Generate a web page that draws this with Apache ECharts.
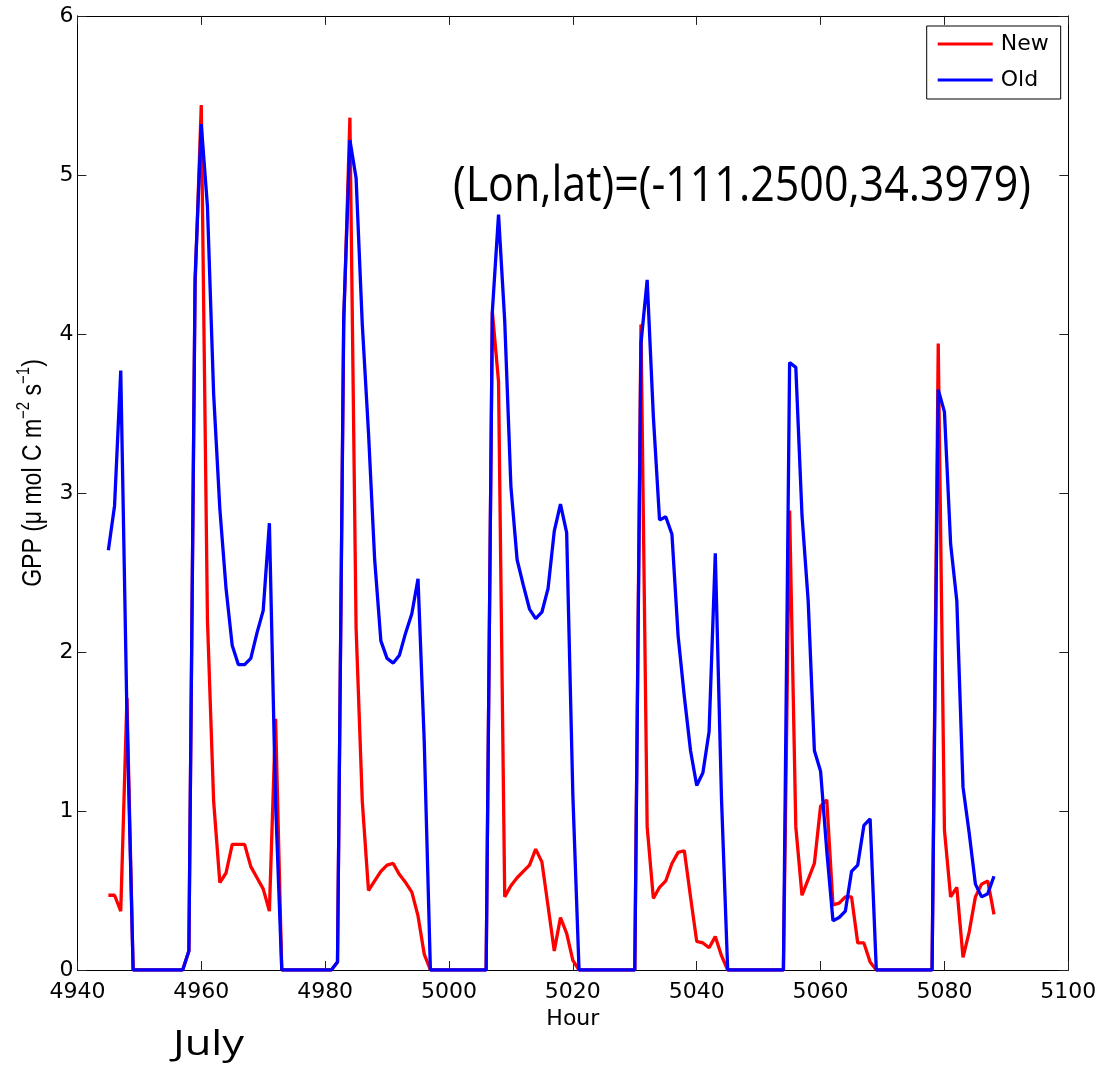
<!DOCTYPE html>
<html>
<head>
<meta charset="utf-8">
<script src="https://cdn.jsdelivr.net/npm/echarts@6/dist/echarts.min.js"></script>
<style>
html,body{margin:0;padding:0;background:#fff;}
#chart{width:1107px;height:1074px;}
</style>
</head>
<body>
<div id="chart"></div>
<script>
// ---- data (hourly values, first hour = 4945) ----
const startHour = 4945;
const newGPP = [
  0.47, 0.47, 0.37, 1.71, 0, 0, 0, 0, 0, 0,
  0, 0, 0, 0.12, 4.3, 5.44, 2.2, 1.06, 0.55, 0.61,
  0.79, 0.79, 0.79, 0.65, 0.58, 0.51, 0.37, 1.58, 0, 0,
  0, 0, 0, 0, 0, 0, 0, 0.05, 4.05, 5.36,
  2.15, 1.06, 0.5, 0.56, 0.62, 0.66, 0.67, 0.6, 0.55, 0.49,
  0.34, 0.1, 0, 0, 0, 0, 0, 0, 0, 0,
  0, 0, 4.14, 3.7, 0.46, 0.53, 0.58, 0.62, 0.66, 0.76,
  0.68, 0.4, 0.12, 0.33, 0.23, 0.06, 0, 0, 0, 0,
  0, 0, 0, 0, 0, 0, 4.06, 0.9, 0.45, 0.52,
  0.56, 0.67, 0.74, 0.75, 0.46, 0.18, 0.17, 0.14, 0.21, 0.09,
  0, 0, 0, 0, 0, 0, 0, 0, 0, 0,
  2.89, 0.9, 0.47, 0.57, 0.67, 1.03, 1.07, 0.41, 0.42, 0.46,
  0.46, 0.17, 0.17, 0.05, 0, 0, 0, 0, 0, 0,
  0, 0, 0, 0, 3.94, 0.88, 0.46, 0.52, 0.08, 0.24,
  0.46, 0.54, 0.56, 0.35
];
const oldGPP = [
  2.64, 2.92, 3.77, 1.6, 0, 0, 0, 0, 0, 0,
  0, 0, 0, 0.12, 4.35, 5.32, 4.8, 3.62, 2.9, 2.4,
  2.04, 1.92, 1.92, 1.96, 2.12, 2.26, 2.81, 1.05, 0, 0,
  0, 0, 0, 0, 0, 0, 0, 0.05, 4.1, 5.22,
  4.98, 4.06, 3.38, 2.58, 2.07, 1.96, 1.93, 1.98, 2.12, 2.24,
  2.46, 1.44, 0, 0, 0, 0, 0, 0, 0, 0,
  0, 0, 4.14, 4.75, 4.08, 3.04, 2.58, 2.42, 2.27, 2.21,
  2.25, 2.4, 2.76, 2.93, 2.75, 1.1, 0, 0, 0, 0,
  0, 0, 0, 0, 0, 0, 3.94, 4.34, 3.48, 2.83,
  2.85, 2.74, 2.1, 1.72, 1.38, 1.16, 1.24, 1.5, 2.62, 1.08,
  0, 0, 0, 0, 0, 0, 0, 0, 0, 0,
  3.82, 3.79, 2.86, 2.32, 1.38, 1.25, 0.75, 0.31, 0.33, 0.37,
  0.62, 0.66, 0.91, 0.95, 0, 0, 0, 0, 0, 0,
  0, 0, 0, 0, 3.65, 3.51, 2.68, 2.32, 1.15, 0.86,
  0.54, 0.46, 0.48, 0.59
];
const seriesNames = ['New', 'Old'];
const seriesColors = ['#ff0000', '#0000ff'];
const xMin = 4940, xMax = 5100, xStep = 20;
const yMin = 0, yMax = 6, yStep = 1;
const xName = 'Hour';
const titleText = '(Lon,lat)=(-111.2500,34.3979)';
const monthText = 'July';

// ---- build ----
function pairs(vals) { return vals.map((v, i) => [startHour + i, v]); }
function fitScale(text, font, target) {
  const c = document.createElement('canvas').getContext('2d');
  c.font = font;
  return target / c.measureText(text).width;
}
const tickFont = 'DejaVu Sans';
const titleFont = '49px "Open Sans"';
const monthFont = '34px "Open Sans"';

const axisBase = {
  type: 'value',
  axisLine: { show: true, onZero: false, lineStyle: { color: '#000', width: 1 } },
  axisTick: { show: true, inside: true, length: 9, lineStyle: { color: '#222', width: 1 } },
  splitLine: { show: false }
};

const chart = echarts.init(document.getElementById('chart'), null, { renderer: 'canvas' });
chart.setOption({
  animation: false,
  backgroundColor: '#fff',
  grid: { left: 77.4, right: 38.7, top: 15.9, bottom: 104, containLabel: false, outerBoundsMode: 'none' },
  legend: {
    data: seriesNames,
    orient: 'vertical',
    left: 926.7, top: 26,
    padding: [7, 12, 8, 11],
    itemWidth: 55, itemHeight: 3, itemGap: 14,
    icon: 'rect',
    borderColor: '#000', borderWidth: 1, backgroundColor: '#fff',
    textStyle: { fontFamily: tickFont, fontSize: 22, color: '#000', lineHeight: 22, padding: [0, 0, 0, 3] }
  },
  xAxis: [
    Object.assign({}, axisBase, {
      position: 'bottom', min: xMin, max: xMax, interval: xStep,
      axisLabel: { margin: 11, fontFamily: tickFont, fontSize: 22, color: '#000', formatter: v => String(v) },
      name: xName, nameLocation: 'middle', nameGap: 36,
      nameTextStyle: { fontFamily: tickFont, fontSize: 22, color: '#000' }
    }),
    Object.assign({}, axisBase, {
      position: 'top', min: xMin, max: xMax, interval: xStep,
      axisLabel: { show: false }
    })
  ],
  yAxis: [
    Object.assign({}, axisBase, {
      position: 'left', min: yMin, max: yMax, interval: yStep,
      axisLabel: { margin: 4, fontFamily: tickFont, fontSize: 22, color: '#000', formatter: v => String(v) }
    }),
    Object.assign({}, axisBase, {
      position: 'right', min: yMin, max: yMax, interval: yStep,
      axisLabel: { show: false }
    })
  ],
  series: [newGPP, oldGPP].map((vals, i) => ({
    name: seriesNames[i],
    type: 'line',
    xAxisIndex: 0, yAxisIndex: 0,
    data: pairs(vals),
    showSymbol: false, symbol: 'none',
    lineStyle: { color: seriesColors[i], width: 3.3 },
    itemStyle: { color: seriesColors[i] },
    silent: true
  })),
  graphic: [
    {
      type: 'text', x: 453, y: 187, scaleX: fitScale(titleText, titleFont, 578),
      style: { text: titleText, font: titleFont, fill: '#000', textAlign: 'left', textVerticalAlign: 'middle', verticalAlign: 'middle' }
    },
    {
      type: 'text', x: 173, y: 1045, scaleX: fitScale(monthText, monthFont, 71),
      style: { text: monthText, font: monthFont, fill: '#000', textAlign: 'left', textVerticalAlign: 'middle', verticalAlign: 'middle' }
    },
    {
      type: 'text', x: 31, y: 473, rotation: Math.PI / 2, scaleY: 1.2,
      style: {
        text: '{a|GPP (\u03bc mol C m}{s|\u22122}{a| s}{s|\u22121}{a|)}',
        textAlign: 'center', textVerticalAlign: 'middle', verticalAlign: 'middle', align: 'center',
        fill: '#000',
        rich: {
          a: { fontFamily: 'Liberation Sans', fontSize: 23, lineHeight: 27, verticalAlign: 'bottom', fill: '#000' },
          s: { fontFamily: 'Liberation Sans', fontSize: 15, lineHeight: 15, verticalAlign: 'top', fill: '#000' }
        }
      }
    }
  ]
});
</script>
</body>
</html>
